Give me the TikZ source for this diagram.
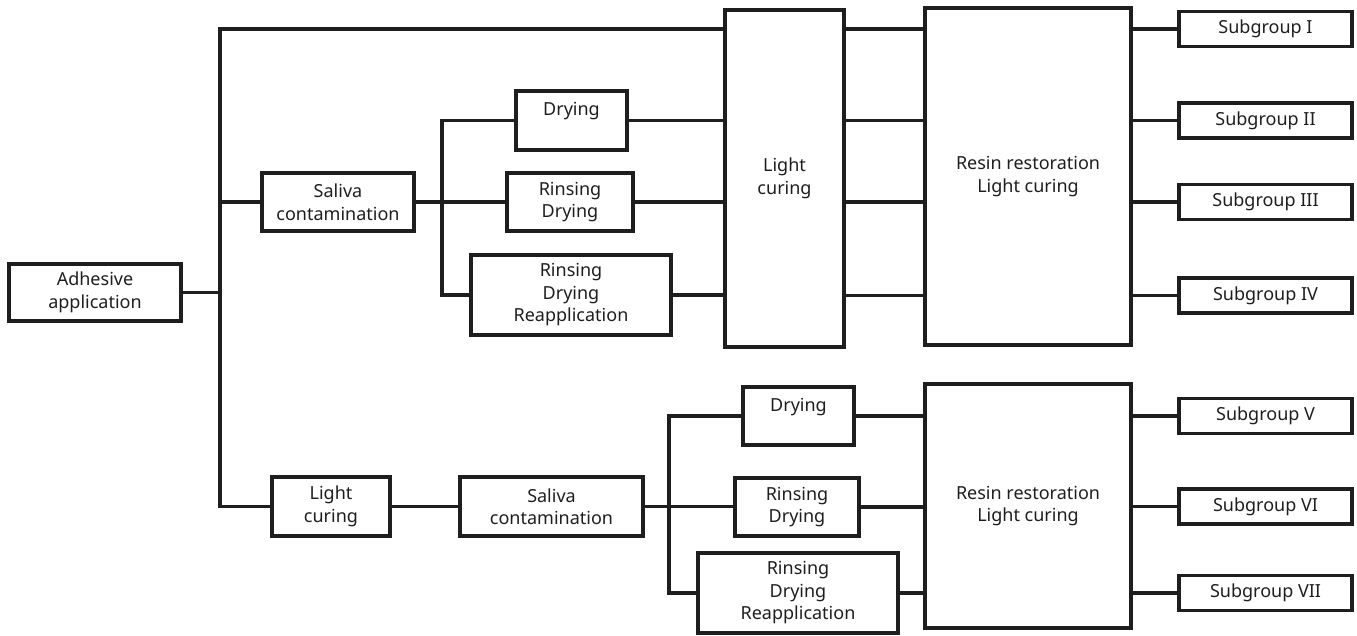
\documentclass[tikz,border=0pt]{standalone}
\usepackage{fontspec}
\setmainfont{Noto Sans}
\definecolor{ink}{HTML}{1E1E1E}
\begin{document}
\begin{tikzpicture}[x=1pt,y=-1pt,
  box/.style={draw=ink, line width=3.2pt, text=ink, align=center, inner sep=0pt,
    font=\fontsize{18}{22.5}\selectfont},
  conn/.style={draw=ink, line width=3.2pt, line cap=rect}]
\useasboundingbox (0,0) rectangle (1357,635);
% top row
\node[box, minimum width=172, minimum height=57] (adh) at (95,292.5) {Adhesive\\application};
\node[box, minimum width=152, minimum height=58] (sal1) at (338,202) {Saliva\\contamination};
\node[box, minimum width=111, minimum height=59] (dr1) at (571.5,120.5) {Drying\\\mbox{}};
\node[box, minimum width=126, minimum height=58] (rd1) at (570,202) {Rinsing\\Drying};
\node[box, minimum width=200, minimum height=80] (rdr1) at (571,295) {Rinsing\\Drying\\Reapplication};
\node[box, minimum width=119, minimum height=337] (lc1) at (784.5,178.5) {Light\\curing};
\node[box, minimum width=206, minimum height=337] (res1) at (1028,176.5) {Resin restoration\\Light curing};
\node[box, minimum width=173, minimum height=35] (g1) at (1265.5,29) {Subgroup I};
\node[box, minimum width=173, minimum height=35] (g2) at (1265.5,120.5) {Subgroup II};
\node[box, minimum width=173, minimum height=35] (g3) at (1265.5,202) {Subgroup III};
\node[box, minimum width=173, minimum height=35] (g4) at (1265.5,295.5) {Subgroup IV};
% bottom row
\node[box, minimum width=118, minimum height=59] (lc2) at (331,506.5) {Light\\curing};
\node[box, minimum width=183, minimum height=59] (sal2) at (551.5,506.5) {Saliva\\contamination};
\node[box, minimum width=111, minimum height=58] (dr2) at (798.5,416) {Drying\\\mbox{}};
\node[box, minimum width=124, minimum height=58] (rd2) at (797,507) {Rinsing\\Drying};
\node[box, minimum width=200, minimum height=80] (rdr2) at (798,593) {Rinsing\\Drying\\Reapplication};
\node[box, minimum width=206, minimum height=244] (res2) at (1028,506) {Resin restoration\\Light curing};
\node[box, minimum width=173, minimum height=35] (g5) at (1265.5,416) {Subgroup V};
\node[box, minimum width=173, minimum height=35] (g6) at (1265.5,506.5) {Subgroup VI};
\node[box, minimum width=173, minimum height=35] (g7) at (1265.5,593) {Subgroup VII};
% spine coordinates
\coordinate (sp1) at (220,29);
\coordinate (b1) at (442,202);
\coordinate (b2) at (669,506.5);
% connectors main spine
\draw[conn] (adh.east) -- (adh.east -| sp1);
\draw[conn] (lc1.west |- sp1) -- (sp1) |- (lc2.west);
\draw[conn] (sp1 |- sal1.west) -- (sal1.west);
% top branch
\draw[conn] (sal1.east) -- (rd1.west);
\draw[conn] (dr1.west) -| (b1) |- (rdr1.west);
\draw[conn] (dr1.east) -- (dr1.east -| lc1.west);
\draw[conn] (rd1.east) -- (rd1.east -| lc1.west);
\draw[conn] (rdr1.east) -- (rdr1.east -| lc1.west);
\foreach \g in {g1,g2,g3,g4}{
  \draw[conn] (lc1.east |- \g.west) -- (res1.west |- \g.west);
  \draw[conn] (res1.east |- \g.west) -- (\g.west);
}
% bottom branch
\draw[conn] (lc2.east) -- (sal2.west);
\draw[conn] (sal2.east) -- (sal2.east -| rd2.west);
\draw[conn] (dr2.west) -| (b2) |- (rdr2.west);
\draw[conn] (dr2.east) -- (dr2.east -| res2.west);
\draw[conn] (rd2.east) -- (rd2.east -| res2.west);
\draw[conn] (rdr2.east) -- (rdr2.east -| res2.west);
\foreach \g in {g5,g6,g7}{
  \draw[conn] (res2.east |- \g.west) -- (\g.west);
}
\end{tikzpicture}
\end{document}
